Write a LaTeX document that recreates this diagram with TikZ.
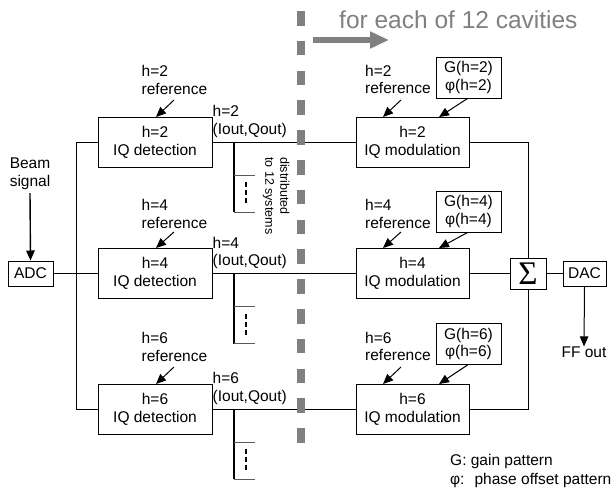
\documentclass[tikz,border=0pt]{standalone}
\usepackage{fontspec}
\setmainfont{Liberation Sans}
\newfontfamily\sigfont{Liberation Serif}
\usetikzlibrary{arrows.meta}
\definecolor{dgray}{RGB}{128,128,128}
\definecolor{bgray}{RGB}{90,90,90}
\tikzset{
  box/.style={draw, line width=1pt, inner sep=0pt, align=center, font=\fontsize{15.5}{17.7}\selectfont},
  lbl/.style={inner sep=0pt, align=left, font=\fontsize{15.5}{17.7}\selectfont},
  clbl/.style={inner sep=0pt, align=center, font=\fontsize{15.5}{17.7}\selectfont},
  wire/.style={line width=1pt},
  thickwire/.style={line width=1.8pt},
  branch/.style={line width=1pt, bgray},
  arr/.style={line width=1pt, -{Triangle[length=10pt,width=8.5pt]}},
}
\begin{document}
\begin{tikzpicture}[x=1pt,y=-1pt]
\useasboundingbox (0,0) rectangle (613,491);
% detection boxes
\node[box, minimum width=114pt, minimum height=50pt] (d2) at (155,142) {h=2\\IQ detection};
\node[box, minimum width=114pt, minimum height=50pt] (d4) at (155,273.5) {h=4\\IQ detection};
\node[box, minimum width=114pt, minimum height=50pt] (d6) at (155,409) {h=6\\IQ detection};
% modulation boxes
\node[box, minimum width=113pt, minimum height=50pt] (m2) at (412.5,142) {h=2\\IQ modulation};
\node[box, minimum width=113pt, minimum height=50pt] (m4) at (412.5,273.5) {h=4\\IQ modulation};
\node[box, minimum width=113pt, minimum height=50pt] (m6) at (412.5,409) {h=6\\IQ modulation};
% G boxes
\node[box, minimum width=65pt, minimum height=41pt] (g2) at (468.5,77.5) {G(h=2)\\φ(h=2)};
\node[box, minimum width=65pt, minimum height=41pt] (g4) at (468.5,211.5) {G(h=4)\\φ(h=4)};
\node[box, minimum width=65pt, minimum height=41pt] (g6) at (468.5,344) {G(h=6)\\φ(h=6)};
% ADC, Sigma, DAC
\node[box, minimum width=45pt, minimum height=25pt] (adc) at (30.5,273.5) {ADC};
\node[box, minimum width=36pt, minimum height=31pt, font=\sigfont\fontsize{33}{33}\selectfont] (sum) at (528,273.5) {Σ};
\node[box, minimum width=43pt, minimum height=25pt] (dac) at (584.5,273.5) {DAC};
% labels
\node[clbl] (beam) at (30,174) {Beam\\signal};
\node[clbl] (ff) at (584,352) {FF out};
\node[lbl, anchor=west] (r2) at (141.5,80) {h=2\\reference};
\node[lbl, anchor=west] (r4) at (141.5,214) {h=4\\reference};
\node[lbl, anchor=west] (r6) at (141.5,347) {h=6\\reference};
\node[lbl, anchor=west] (rr2) at (365,79.5) {h=2\\reference};
\node[lbl, anchor=west] (rr4) at (365,214) {h=4\\reference};
\node[lbl, anchor=west] (rr6) at (365,346.5) {h=6\\reference};
\node[lbl, anchor=west] (o2) at (212.5,121.5) {h=2\\(Iout,Qout)};
\node[lbl, anchor=west] (o4) at (212.5,253) {h=4\\(Iout,Qout)};
\node[lbl, anchor=west] (o6) at (212.5,388.5) {h=6\\(Iout,Qout)};
\node[inner sep=0pt, align=left, rotate=-90, anchor=west, font=\fontsize{12.5}{15}\selectfont] (dist) at (276,157) {distributed\\to 12 systems};
\node[lbl, anchor=west] (leg1) at (450,461) {G: gain pattern};
\node[lbl, anchor=west] (leg2) at (450,480) {φ:~ phase offset pattern};
\node[inner sep=0pt, anchor=base west, text=dgray, font=\fontsize{24.5}{26}\selectfont] (title) at (339,28.5) {for each of 12 cavities};
% coordinates
\coordinate (bt) at (76,142);
\coordinate (bm) at (76,273.5);
\coordinate (bb) at (76,409);
\coordinate (st) at (528,142);
\coordinate (sb) at (528,409);
\coordinate (bs) at (30,193);
% input bus
\draw[thickwire] (adc.east) -- (bm);
\draw[wire] (bm) -- (d4.west);
\draw[wire] (d2.west) -- (bt) -- (bb) -- (d6.west);
% outputs
\draw[wire] (d2.east) -- (m2.west);
\draw[wire] (d4.east) -- (m4.west);
\draw[wire] (d6.east) -- (m6.west);
% distribution branches
\foreach \y in {142,273.5,409}{
  \draw[thickwire] (234,\y) -- (234,\y+70);
  \draw[branch] (234,\y+33) -- (255,\y+33);
  \draw[branch] (234,\y+70) -- (255,\y+70);
  \draw[line width=2.6pt, dash pattern=on 5pt off 3pt] (246,\y+40) -- (246,\y+62);
}
% summation
\draw[wire] (m2.east) -- (st) -- (sum.north);
\draw[wire] (m4.east) -- (sum.west);
\draw[wire] (m6.east) -- (sb) -- (sum.south);
\draw[wire] (sum.east) -- (dac.west);
% arrows
\draw[arr, line width=1.4pt] (bs) -- (adc.north);
\draw[arr] (dac.south) -- (ff.north);
\draw[arr] (174,100) -- (156,117);
\draw[arr] (174,232) -- (156,248);
\draw[arr] (174,367) -- (156,384);
\draw[arr] (401,100) -- (383,117);
\draw[arr] (401,232) -- (383,248);
\draw[arr] (401,367) -- (383,384);
\draw[arr] (g2.south) ++(-1,0) -- (439,117);
\draw[arr] (g4.south) ++(-1,0) -- (439,248);
\draw[arr] (g6.south) ++(-1,0) -- (439,384);
% gray divider
\draw[dgray, line width=8pt, dash pattern=on 14.5pt off 15.3pt] (301,11) -- (301,443);
\draw[dgray, line width=6pt, -{Triangle[length=19pt,width=16pt]}] (313,40) -- (389,40);
\end{tikzpicture}
\end{document}
